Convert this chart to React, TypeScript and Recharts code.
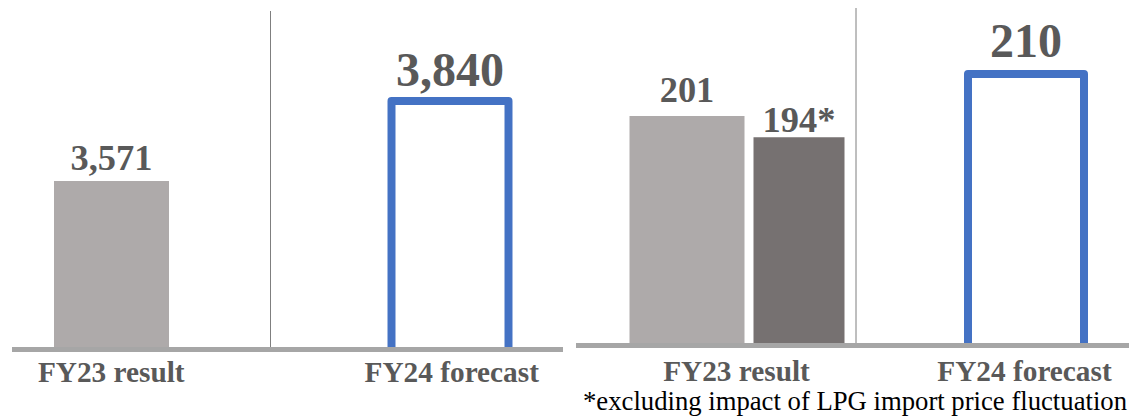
import { Bar, BarChart, LabelList, ReferenceLine, XAxis, YAxis } from "recharts";

const categories = ["FY23 result", "FY24 forecast"];

// left panel
const salesResult = [3571, null];
const salesForecast = [null, 3840];

// right panel
const profitResult = [201, null];
const profitExLpg = [194, null];
const profitForecast = [null, 210];

const footnote = "*excluding impact of LPG import price fluctuation";

const salesRows = categories.map((category, i) => ({
	category,
	result: salesResult[i],
	forecast: salesForecast[i],
}));

const profitRows = categories.map((category, i) => ({
	category,
	result: profitResult[i],
	exLpg: profitExLpg[i],
	forecast: profitForecast[i],
}));

const FONT = '"Liberation Serif", "Times New Roman", serif';
const TEXT = "#595959";
const BLUE = "#4472c4";
const LIGHT = "#aeaaaa";
const DARK = "#767171";
const RULE = "#a6a6a6";

const fmt = (v: unknown) =>
	typeof v === "number" ? v.toLocaleString("en-US") : "";

const valueText = (size: number) => ({
	fill: TEXT,
	fontSize: size,
	fontWeight: 700,
	fontFamily: FONT,
});

const tickText = { fill: TEXT, fontSize: 29.3, fontWeight: 700, fontFamily: FONT };

// forecast bars are outlined only, left open at the bottom so the base rule closes them
function OutlineBar(props: any) {
	const { x, y, width, height } = props;
	if (!Number.isFinite(height) || height <= 0) return <g />;
	return (
		<path
			d={`M${x},${y + height}V${y}H${x + width}V${y + height}`}
			fill="#fff"
			stroke={BLUE}
			strokeWidth={8}
			strokeLinejoin="round"
		/>
	);
}

export default function App() {
	return (
		<div
			style={{
				position: "absolute",
				left: 0,
				top: 0,
				width: 1129,
				height: 416,
				background: "#fff",
				overflow: "hidden",
			}}
		>
			{/* Sales */}
			<div style={{ position: "absolute", left: 0, top: 0 }}>
				<BarChart
					width={570}
					height={416}
					data={salesRows}
					margin={{ top: 11, right: 7, bottom: 26.5, left: 12 }}
				>
					<YAxis yAxisId="result" hide domain={[0, 7174]} allowDataOverflow />
					<YAxis yAxisId="forecast" hide domain={[0, 5231]} allowDataOverflow />
					<XAxis
						xAxisId="fc"
						dataKey="category"
						hide
						height={0}
						padding={{ left: -101, right: -67 }}
					/>
					<ReferenceLine
						xAxisId="fc"
						yAxisId="forecast"
						x="FY24 forecast"
						position="start"
						stroke="#7f7f7f"
					/>
					<Bar
						xAxisId="main"
						yAxisId="result"
						dataKey="result"
						fill={LIGHT}
						barSize={115}
						isAnimationActive={false}
					>
						<LabelList
							dataKey="result"
							position="top"
							offset={11}
							formatter={fmt}
							{...valueText(36.4)}
						/>
					</Bar>
					<Bar
						xAxisId="fc"
						yAxisId="forecast"
						dataKey="forecast"
						barSize={117}
						shape={OutlineBar}
						isAnimationActive={false}
					>
						<LabelList
							dataKey="forecast"
							position="top"
							offset={15}
							formatter={fmt}
							{...valueText(48)}
						/>
					</Bar>
					<XAxis
						xAxisId="main"
						dataKey="category"
						height={40}
						interval={0}
						padding={{ left: -71, right: -59 }}
						axisLine={{ stroke: RULE, strokeWidth: 5 }}
						tickLine={false}
						tickSize={0}
						tickMargin={12}
						tick={tickText}
					/>
				</BarChart>
			</div>

			{/* Profit */}
			<div style={{ position: "absolute", left: 570, top: 0 }}>
				<BarChart
					width={559}
					height={416}
					data={profitRows}
					barGap={9}
					margin={{ top: 8, right: 0, bottom: 30.5, left: 6 }}
				>
					<YAxis
						yAxisId="result"
						hide
						domain={[125.6, 236.5]}
						allowDataOverflow
					/>
					<YAxis yAxisId="forecast" hide domain={[0, 261]} allowDataOverflow />
					<XAxis
						xAxisId="fc"
						dataKey="category"
						hide
						height={0}
						padding={{ left: -60, right: -67 }}
					/>
					<ReferenceLine
						xAxisId="fc"
						yAxisId="forecast"
						x="FY24 forecast"
						position="start"
						stroke="#7f7f7f"
					/>
					<Bar
						xAxisId="main"
						yAxisId="result"
						dataKey="result"
						fill={LIGHT}
						barSize={115}
						isAnimationActive={false}
					>
						<LabelList
							dataKey="result"
							position="top"
							offset={14}
							formatter={fmt}
							{...valueText(36.4)}
						/>
					</Bar>
					<Bar
						xAxisId="main"
						yAxisId="result"
						dataKey="exLpg"
						fill={DARK}
						barSize={91}
						isAnimationActive={false}
					>
						<LabelList
							dataKey="exLpg"
							position="top"
							offset={5.5}
							formatter={(v: unknown) => (v == null ? "" : `${v}*`)}
							{...valueText(36.4)}
						/>
					</Bar>
					<Bar
						xAxisId="fc"
						yAxisId="forecast"
						dataKey="forecast"
						barSize={116}
						shape={OutlineBar}
						isAnimationActive={false}
					>
						<LabelList
							dataKey="forecast"
							position="top"
							offset={16.5}
							formatter={fmt}
							{...valueText(48)}
						/>
					</Bar>
					<XAxis
						xAxisId="main"
						dataKey="category"
						height={40}
						interval={0}
						padding={{ left: 16.5, right: -39.5 }}
						axisLine={{ stroke: RULE, strokeWidth: 5 }}
						tickLine={false}
						tickSize={0}
						tickMargin={14.7}
						tick={tickText}
					/>
				</BarChart>
			</div>

			<div
				style={{
					position: "absolute",
					left: 583,
					top: 387.6,
					fontFamily: FONT,
					fontSize: 26.7,
					lineHeight: 1,
					color: "#000",
					whiteSpace: "nowrap",
				}}
			>
				{footnote}
			</div>
		</div>
	);
}
